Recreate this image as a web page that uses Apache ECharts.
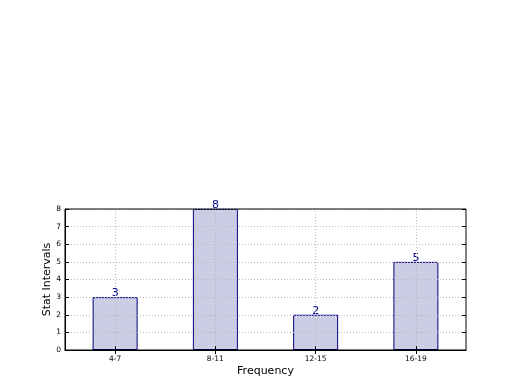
<!DOCTYPE html>
<html><head><meta charset="utf-8">
<script src="https://cdn.jsdelivr.net/npm/echarts@6/dist/echarts.min.js"></script>
<style>html,body{margin:0;padding:0;background:#fff}#c{width:520px;height:390px}</style>
</head><body><div id="c"></div>
<script>
const categories = ['4-7', '8-11', '12-15', '16-19'];
const values = [3, 8, 2, 5];
const yTicks = [0, 1, 2, 3, 4, 5, 6, 7, 8];

const chart = echarts.init(document.getElementById('c'), null, {renderer: 'canvas'});
const font = 'DejaVu Sans';
const gridLine = {show: true, lineStyle: {color: '#b8b8b8', type: [1, 2], width: 1}};
chart.setOption({
  animation: false,
  backgroundColor: '#fff',
  grid: {left: 65, right: 54, top: 209, bottom: 40, show: true, borderColor: '#000', borderWidth: 1, backgroundColor: 'transparent', z: 4},
  xAxis: [{
    type: 'category', data: categories, boundaryGap: true, z: 3,
    axisLine: {show: true, lineStyle: {color: '#000'}},
    axisTick: {show: true, inside: true, alignWithLabel: true, length: 4, lineStyle: {color: '#000'}},
    axisLabel: {fontFamily: font, fontSize: 7.5, color: '#000', margin: 5},
    splitLine: {show: false},
    name: 'Frequency', nameLocation: 'middle', nameGap: 16,
    nameTextStyle: {fontFamily: font, fontSize: 11, color: '#000'}
  }, {
    type: 'category', data: categories, boundaryGap: true, position: 'top', z: 3,
    axisLine: {show: false},
    axisTick: {show: true, inside: true, alignWithLabel: true, length: 4, lineStyle: {color: '#000'}},
    axisLabel: {show: false}, splitLine: {show: false}
  }],
  yAxis: [{
    type: 'value', min: yTicks[0], max: yTicks[yTicks.length - 1], interval: 1, z: 3,
    axisLine: {show: true, lineStyle: {color: '#000'}},
    axisTick: {show: true, inside: true, length: 4, lineStyle: {color: '#000'}},
    axisLabel: {fontFamily: font, fontSize: 7.5, color: '#000', margin: 4},
    splitLine: gridLine,
    name: 'Stat Intervals', nameLocation: 'middle', nameGap: 12, nameRotate: 90, nameMoveOverlap: false,
    nameTextStyle: {fontFamily: font, fontSize: 11, color: '#000'}
  }, {
    type: 'value', min: yTicks[0], max: yTicks[yTicks.length - 1], interval: 1, position: 'right', z: 3,
    axisLine: {show: false},
    axisTick: {show: true, inside: true, length: 4, lineStyle: {color: '#000'}},
    axisLabel: {show: false}, splitLine: {show: false}
  }],
  series: [{
    type: 'bar', data: values, barWidth: 45, xAxisIndex: 0, yAxisIndex: 0,
    itemStyle: {color: '#ccccE5', borderColor: '#000080', borderWidth: 1},
    label: {show: true, position: 'top', distance: -2, color: '#00008B', fontFamily: font, fontSize: 11},
    markLine: {
      silent: true, symbol: 'none', z: 3, label: {show: false},
      lineStyle: {color: '#b8b8b8', type: [1, 2], width: 1},
      data: categories.map(c => ({xAxis: c}))
    }
  }]
});
</script></body></html>
